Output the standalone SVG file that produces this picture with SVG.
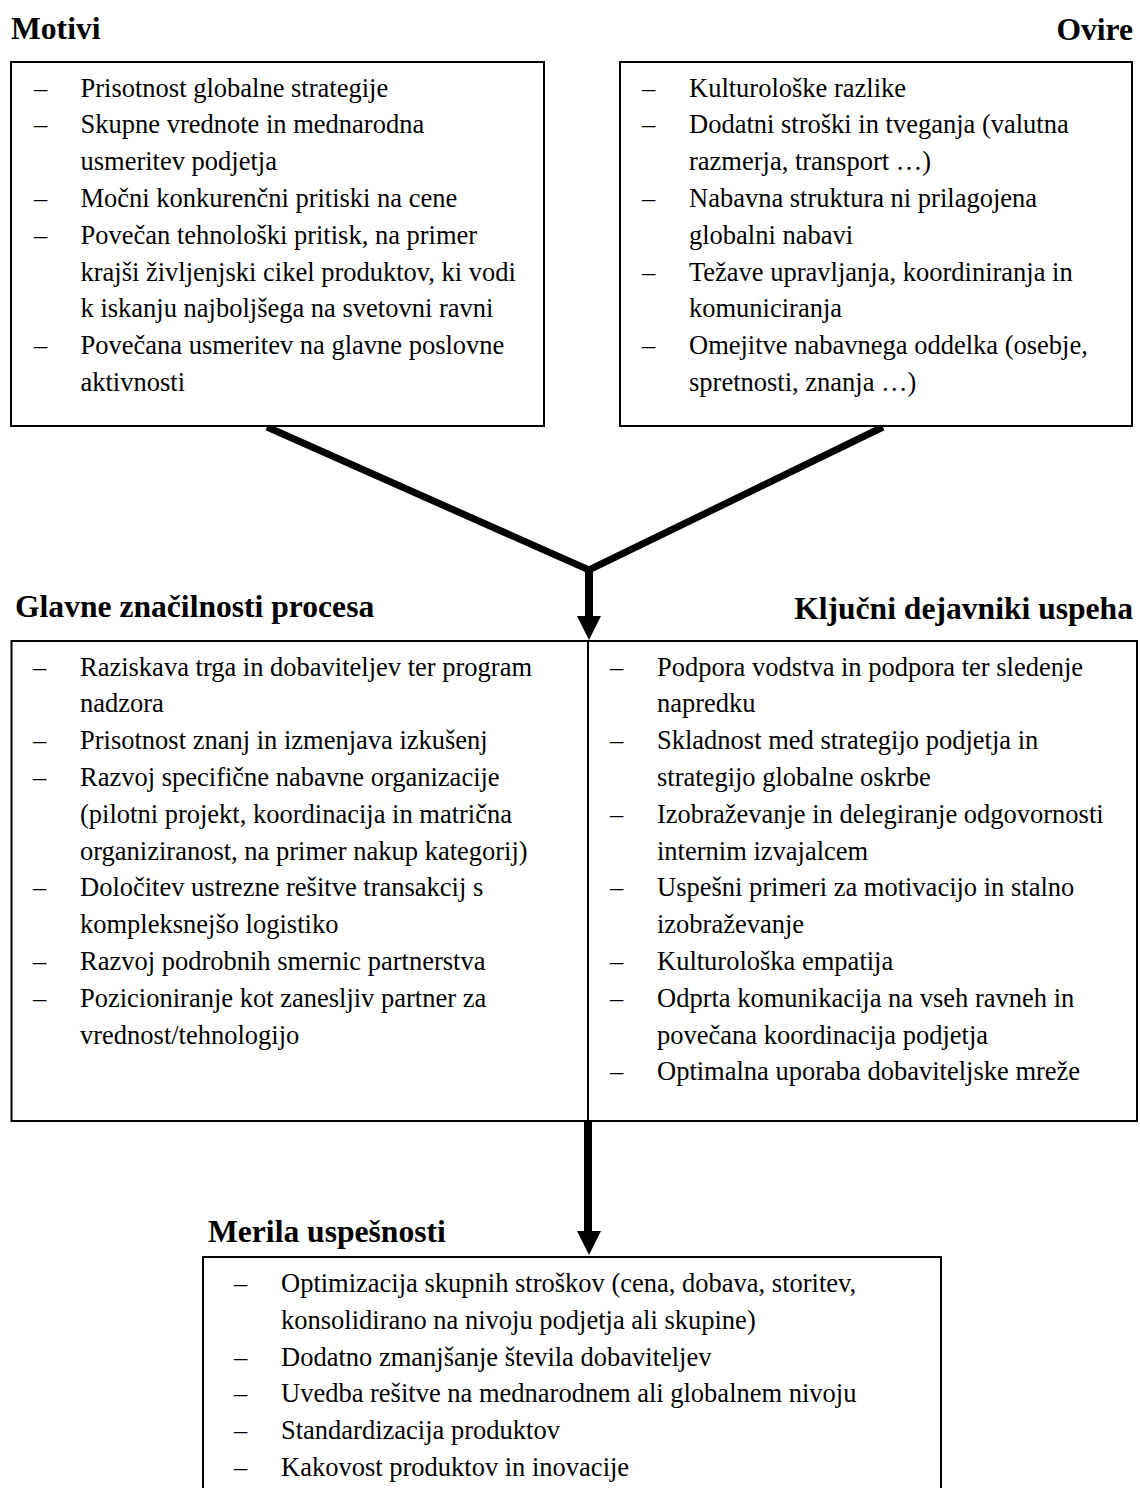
<svg xmlns="http://www.w3.org/2000/svg" width="1140" height="1488" viewBox="0 0 1140 1488">
<style>
.box{fill:#fff;stroke:#000;stroke-width:2}
.t{font-family:"Liberation Serif","Times New Roman",serif;font-size:26.5px;fill:#000}
.h{font-family:"Liberation Serif","Times New Roman",serif;font-size:31.6px;font-weight:bold;fill:#000}
.thick{fill:none;stroke:#000;stroke-width:7;stroke-linejoin:miter}
.shaft{fill:none;stroke:#000;stroke-width:8}
</style>
<defs>
<polygon id="ah" points="-12,0 12,0 0,24" fill="#000"/>
</defs>
<rect width="1140" height="1488" fill="#fff"/>

<g id="connectors">
<path class="thick" d="M267,427 L589,570 L883,427"/>
<line class="shaft" x1="589" y1="568" x2="589" y2="618"/>
<use href="#ah" x="589" y="616"/>
<line class="shaft" x1="588" y1="1121" x2="588" y2="1232"/>
<use href="#ah" x="589" y="1231"/>
</g>

<g id="motivi">
<text class="h" x="11" y="39">Motivi</text>
<rect class="box" x="11" y="62" width="533" height="364"/>
<text class="t">
<tspan x="34" y="96.5">–</tspan><tspan x="80.5" y="96.5">Prisotnost globalne strategije</tspan>
<tspan x="34" y="133.3">–</tspan><tspan x="80.5" y="133.3">Skupne vrednote in mednarodna</tspan>
<tspan x="80.5" y="170.1">usmeritev podjetja</tspan>
<tspan x="34" y="206.9">–</tspan><tspan x="80.5" y="206.9">Močni konkurenčni pritiski na cene</tspan>
<tspan x="34" y="243.7">–</tspan><tspan x="80.5" y="243.7">Povečan tehnološki pritisk, na primer</tspan>
<tspan x="80.5" y="280.5">krajši življenjski cikel produktov, ki vodi</tspan>
<tspan x="80.5" y="317.3">k iskanju najboljšega na svetovni ravni</tspan>
<tspan x="34" y="354.1">–</tspan><tspan x="80.5" y="354.1">Povečana usmeritev na glavne poslovne</tspan>
<tspan x="80.5" y="390.9">aktivnosti</tspan>
</text>
</g>

<g id="ovire">
<text class="h" x="1133" y="40" text-anchor="end">Ovire</text>
<rect class="box" x="620" y="62" width="512" height="364"/>
<text class="t">
<tspan x="642" y="96.5">–</tspan><tspan x="689" y="96.5">Kulturološke razlike</tspan>
<tspan x="642" y="133.3">–</tspan><tspan x="689" y="133.3">Dodatni stroški in tveganja (valutna</tspan>
<tspan x="689" y="170.1">razmerja, transport …)</tspan>
<tspan x="642" y="206.9">–</tspan><tspan x="689" y="206.9">Nabavna struktura ni prilagojena</tspan>
<tspan x="689" y="243.7">globalni nabavi</tspan>
<tspan x="642" y="280.5">–</tspan><tspan x="689" y="280.5">Težave upravljanja, koordiniranja in</tspan>
<tspan x="689" y="317.3">komuniciranja</tspan>
<tspan x="642" y="354.1">–</tspan><tspan x="689" y="354.1">Omejitve nabavnega oddelka (osebje,</tspan>
<tspan x="689" y="390.9">spretnosti, znanja …)</tspan>
</text>
</g>

<g id="glavne">
<text class="h" x="15" y="617">Glavne značilnosti procesa</text>
<rect class="box" x="11.5" y="641" width="576.5" height="480"/>
<text class="t">
<tspan x="33" y="675.5">–</tspan><tspan x="80" y="675.5">Raziskava trga in dobaviteljev ter program</tspan>
<tspan x="80" y="712.3">nadzora</tspan>
<tspan x="33" y="749.1">–</tspan><tspan x="80" y="749.1">Prisotnost znanj in izmenjava izkušenj</tspan>
<tspan x="33" y="785.9">–</tspan><tspan x="80" y="785.9">Razvoj specifične nabavne organizacije</tspan>
<tspan x="80" y="822.7">(pilotni projekt, koordinacija in matrična</tspan>
<tspan x="80" y="859.5">organiziranost, na primer nakup kategorij)</tspan>
<tspan x="33" y="896.3">–</tspan><tspan x="80" y="896.3">Določitev ustrezne rešitve transakcij s</tspan>
<tspan x="80" y="933.1">kompleksnejšo logistiko</tspan>
<tspan x="33" y="969.9">–</tspan><tspan x="80" y="969.9">Razvoj podrobnih smernic partnerstva</tspan>
<tspan x="33" y="1006.7">–</tspan><tspan x="80" y="1006.7">Pozicioniranje kot zanesljiv partner za</tspan>
<tspan x="80" y="1043.5">vrednost/tehnologijo</tspan>
</text>
</g>

<g id="kljucni">
<text class="h" x="1133" y="619" text-anchor="end">Ključni dejavniki uspeha</text>
<rect class="box" x="588" y="641" width="549" height="480"/>
<text class="t">
<tspan x="610" y="675.5">–</tspan><tspan x="657" y="675.5">Podpora vodstva in podpora ter sledenje</tspan>
<tspan x="657" y="712.3">napredku</tspan>
<tspan x="610" y="749.1">–</tspan><tspan x="657" y="749.1">Skladnost med strategijo podjetja in</tspan>
<tspan x="657" y="785.9">strategijo globalne oskrbe</tspan>
<tspan x="610" y="822.7">–</tspan><tspan x="657" y="822.7">Izobraževanje in delegiranje odgovornosti</tspan>
<tspan x="657" y="859.5">internim izvajalcem</tspan>
<tspan x="610" y="896.3">–</tspan><tspan x="657" y="896.3">Uspešni primeri za motivacijo in stalno</tspan>
<tspan x="657" y="933.1">izobraževanje</tspan>
<tspan x="610" y="969.9">–</tspan><tspan x="657" y="969.9">Kulturološka empatija</tspan>
<tspan x="610" y="1006.7">–</tspan><tspan x="657" y="1006.7">Odprta komunikacija na vseh ravneh in</tspan>
<tspan x="657" y="1043.5">povečana koordinacija podjetja</tspan>
<tspan x="610" y="1080.3">–</tspan><tspan x="657" y="1080.3">Optimalna uporaba dobaviteljske mreže</tspan>
</text>
</g>

<g id="merila">
<text class="h" x="208" y="1242">Merila uspešnosti</text>
<rect class="box" x="203" y="1257" width="738" height="240"/>
<text class="t">
<tspan x="234" y="1292">–</tspan><tspan x="281" y="1292">Optimizacija skupnih stroškov (cena, dobava, storitev,</tspan>
<tspan x="281" y="1329">konsolidirano na nivoju podjetja ali skupine)</tspan>
<tspan x="234" y="1366">–</tspan><tspan x="281" y="1366">Dodatno zmanjšanje števila dobaviteljev</tspan>
<tspan x="234" y="1402">–</tspan><tspan x="281" y="1402">Uvedba rešitve na mednarodnem ali globalnem nivoju</tspan>
<tspan x="234" y="1439">–</tspan><tspan x="281" y="1439">Standardizacija produktov</tspan>
<tspan x="234" y="1476">–</tspan><tspan x="281" y="1476">Kakovost produktov in inovacije</tspan>
</text>
</g>
</svg>
